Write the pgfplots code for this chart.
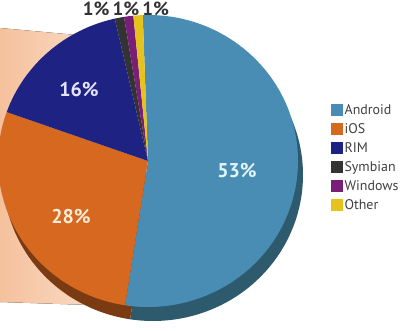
\documentclass[border=0pt]{standalone}
\usepackage{pgfplots}
\pgfplotsset{compat=1.18}
\usepackage{fontspec}
\setmainfont{PT Sans}
\definecolor{android}{HTML}{4A8DB4}
\definecolor{androiddk}{HTML}{2E5A6E}
\definecolor{ios}{HTML}{D6691F}
\definecolor{iosdk}{HTML}{7A3A12}
\definecolor{rim}{HTML}{1E2383}
\definecolor{symbian}{HTML}{333333}
\definecolor{windows}{HTML}{7A1F78}
\definecolor{other}{HTML}{E6C31C}
\definecolor{peachA}{HTML}{F5C19D}
\definecolor{peachB}{HTML}{FBE1CE}
\begin{document}
\begin{tikzpicture}
\def\cx{148}\def\cy{170}\def\rx{150}\def\ry{146}
\begin{axis}[x=1bp, y=1bp, xmin=0, xmax=417, ymin=0, ymax=331,
  hide axis, clip=true,
  legend style={at={(axis cs:331,229)}, anchor=north west, draw=none, fill=none,
    font=\fontsize{14}{16}\selectfont, text=black!75,
    row sep=3.6bp, inner sep=0pt,
    legend cell align=left},
  legend image code/.code={\fill[#1] (0bp,-5bp) rectangle (11bp,6bp);},
]
% peach background wedge
\fill[left color=peachA, right color=peachB] (axis cs:0,303) -- (axis cs:120,292) -- (axis cs:120,25) -- (axis cs:0,29) -- cycle;
% 3D rim (shifted copy)
\fill[androiddk] (axis cs:\cx+5,\cy-14) -- ++(92:{\rx bp} and {\ry bp}) arc[start angle=92, delta angle={-53*3.6}, x radius=\rx bp, y radius=\ry bp] -- cycle;
\fill[iosdk] (axis cs:\cx+5,\cy-14) -- ++({92-53*3.6}:{\rx bp} and {\ry bp}) arc[start angle={92-53*3.6}, delta angle={-28*3.6}, x radius=\rx bp, y radius=\ry bp] -- cycle;
% slices
\fill[android] (axis cs:\cx,\cy) -- ++(92:{\rx bp} and {\ry bp}) arc[start angle=92, delta angle={-53*3.6}, x radius=\rx bp, y radius=\ry bp] -- cycle;
\fill[ios] (axis cs:\cx,\cy) -- ++({92-53*3.6}:{\rx bp} and {\ry bp}) arc[start angle={92-53*3.6}, delta angle={-28*3.6}, x radius=\rx bp, y radius=\ry bp] -- cycle;
\fill[rim] (axis cs:\cx,\cy) -- ++({92-81*3.6}:{\rx bp} and {\ry bp}) arc[start angle={92-81*3.6}, delta angle={-16*3.6}, x radius=\rx bp, y radius=\ry bp] -- cycle;
\fill[symbian] (axis cs:\cx,\cy) -- ++({92-97*3.6}:{\rx bp} and {\ry bp}) arc[start angle={92-97*3.6}, delta angle={-1*3.6}, x radius=\rx bp, y radius=\ry bp] -- cycle;
\fill[windows] (axis cs:\cx,\cy) -- ++({92-98*3.6}:{\rx bp} and {\ry bp}) arc[start angle={92-98*3.6}, delta angle={-1*3.6}, x radius=\rx bp, y radius=\ry bp] -- cycle;
\fill[other] (axis cs:\cx,\cy) -- ++({92-99*3.6}:{\rx bp} and {\ry bp}) arc[start angle={92-99*3.6}, delta angle={-1*3.6}, x radius=\rx bp, y radius=\ry bp] -- cycle;
% labels
\node[text=white!88!cyan, font=\fontsize{20}{20}\selectfont\bfseries] at (axis cs:237,160) {53\%};
\node[text=white!85!orange, font=\fontsize{20}{20}\selectfont\bfseries] at (axis cs:71,114) {28\%};
\node[text=white!90!blue, font=\fontsize{20}{20}\selectfont\bfseries] at (axis cs:79,241) {16\%};
\node[text=black!80, font=\fontsize{19}{19}\selectfont\bfseries, anchor=base] at (axis cs:126,316) {1\%\,1\%\,1\%};
% legend
\addlegendimage{android}\addlegendentry{Android}
\addlegendimage{ios}\addlegendentry{iOS}
\addlegendimage{rim}\addlegendentry{RIM}
\addlegendimage{symbian}\addlegendentry{Symbian}
\addlegendimage{windows}\addlegendentry{Windows}
\addlegendimage{other}\addlegendentry{Other}
\end{axis}
\pgfresetboundingbox
\path[use as bounding box] (0,0) rectangle (417bp,331bp);
\end{tikzpicture}
\end{document}
